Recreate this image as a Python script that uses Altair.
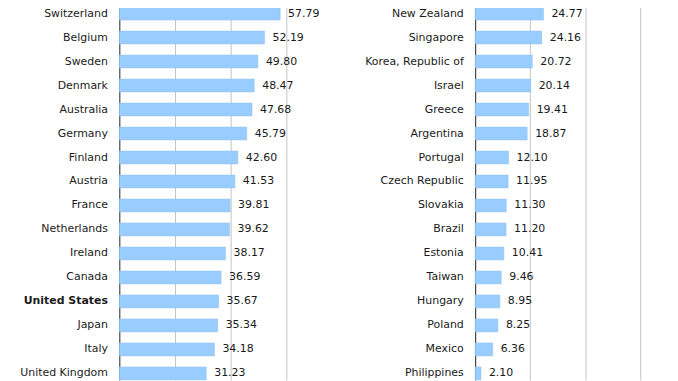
import altair as alt
import pandas as pd

left_countries = ["Switzerland", "Belgium", "Sweden", "Denmark", "Australia", "Germany",
                  "Finland", "Austria", "France", "Netherlands", "Ireland", "Canada",
                  "United States", "Japan", "Italy", "United Kingdom"]
left_values = [57.79, 52.19, 49.80, 48.47, 47.68, 45.79, 42.60, 41.53, 39.81, 39.62,
               38.17, 36.59, 35.67, 35.34, 34.18, 31.23]

right_countries = ["New Zealand", "Singapore", "Korea, Republic of", "Israel", "Greece",
                   "Argentina", "Portugal", "Czech Republic", "Slovakia", "Brazil",
                   "Estonia", "Taiwan", "Hungary", "Poland", "Mexico", "Philippines"]
right_values = [24.77, 24.16, 20.72, 20.14, 19.41, 18.87, 12.10, 11.95, 11.30, 11.20,
                10.41, 9.46, 8.95, 8.25, 6.36, 2.10]

grid_values = [20, 40, 60]

FONT = "DejaVu Sans"
BAR = "#99CCFF"


def panel(countries, values, width, extent, xmax):
    df = pd.DataFrame({"country": countries, "value": values})
    y = alt.Y("country:N", sort=countries,
              scale=alt.Scale(paddingInner=0.46, paddingOuter=0),
              axis=alt.Axis(title=None, ticks=False, labelPadding=12,
                            labelFontSize=11, labelFont=FONT, labelColor="#1a1a1a",
                            labelLimit=300, domainColor="#222222", domainWidth=1,
                            minExtent=extent, maxExtent=extent,
                            labelFontWeight={"condition": {"test": "datum.value == 'United States'",
                                                           "value": "bold"},
                                             "value": "normal"}))
    x = alt.X("value:Q", scale=alt.Scale(domain=[0, xmax], nice=False),
              axis=alt.Axis(title=None, labels=False, ticks=False, domain=False,
                            grid=True, values=grid_values, gridColor="#c4c4c4",
                            gridWidth=1))
    base = alt.Chart(df)
    bars = base.mark_bar(color=BAR, stroke="#8fc3f5", strokeWidth=0.5).encode(x=x, y=y)
    text = base.mark_text(align="left", baseline="middle", dx=8, font=FONT,
                          fontSize=11, color="#1a1a1a").encode(
        x="value:Q", y=alt.Y("country:N", sort=countries),
        text=alt.Text("value:Q", format=".2f"))
    return alt.layer(bars, text).properties(width=width, height=375)


left = panel(left_countries, left_values, 224, 111, 80)
right = panel(right_countries, right_values, 195, 132, 70.3)

chart = alt.hconcat(left, right, spacing=0).properties(
    padding={"top": -3, "left": 0, "right": 0, "bottom": 0},
).configure_view(stroke="transparent").resolve_scale(x="independent", y="independent")

chart.save("out.html", embed_options={"renderer": "svg", "actions": False})
